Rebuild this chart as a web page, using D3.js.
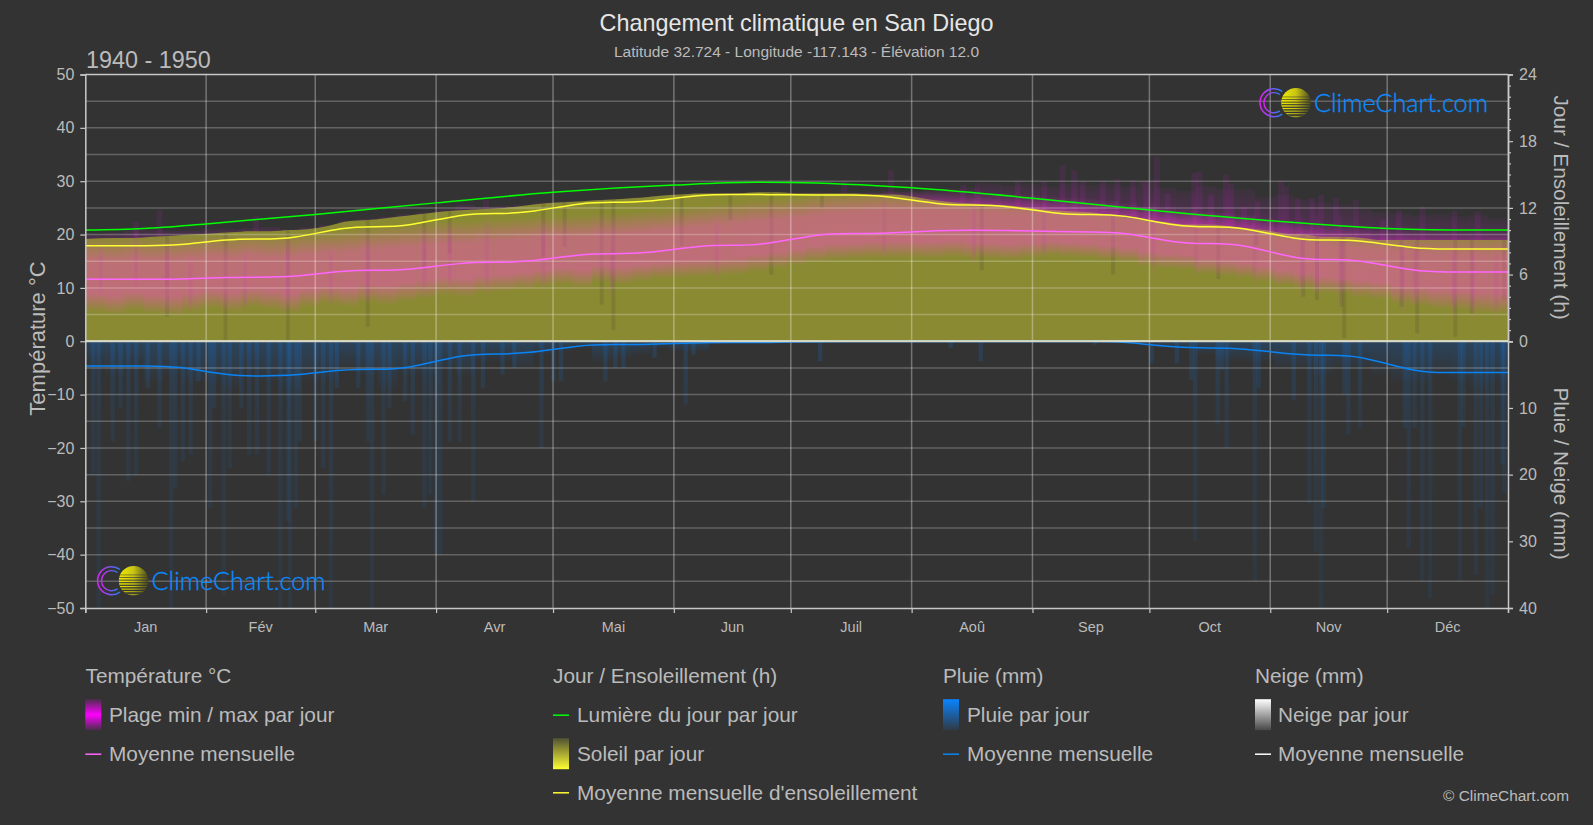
<!DOCTYPE html>
<html>
<head>
<meta charset="utf-8">
<title>Changement climatique en San Diego</title>
<script src="https://cdn.jsdelivr.net/npm/d3@7"></script>
<style>
    html, body { margin: 0; padding: 0; background: #333333; }
    svg { display: block; }
    text { font-family: "Liberation Sans", Arial, sans-serif; fill: #bbbbbb; }
</style>
</head>
<body>
<div id="chart"></div>
<script>
var months = ["Jan", "Fév", "Mar", "Avr", "Mai", "Jun", "Juil", "Aoû", "Sep", "Oct", "Nov", "Déc"];
var monthStarts = [0, 31, 59, 90, 120, 151, 181, 212, 243, 273, 304, 334, 365];

var tempTicks = [-50, -40, -30, -20, -10, 0, 10, 20, 30, 40, 50];
var sunTicks = [0, 6, 12, 18, 24];
var sunMinorTicks = [1, 2, 3, 4, 5, 7, 8, 9, 10, 11, 13, 14, 15, 16, 17, 19, 20, 21, 22, 23];
var rainTicks = [10, 20, 30, 40];
var gridTemps = [-45, -40, -35, -30, -25, -20, -15, -10, -5, 5, 10, 15, 20, 25, 30, 35, 40, 45];

// monthly means
var tempMonthly = [11.6, 12.0, 13.3, 14.8, 16.4, 18.0, 20.2, 20.8, 20.5, 18.3, 15.3, 13.0];
var sunMonthly = [8.6, 9.2, 10.3, 11.5, 12.5, 13.2, 13.15, 12.25, 11.4, 10.3, 9.1, 8.3];
var rainMonthly = [3.7, 5.2, 4.2, 1.9, 0.5, 0.2, 0.05, 0.02, 0.02, 1.0, 2.1, 4.7];
var snowMonthly = [0, 0, 0, 0, 0, 0, 0, 0, 0, 0, 0, 0];

// daylight
var daylightDays = [0, 15, 31, 59, 90, 120, 151, 172, 181, 212, 243, 273, 304, 334, 355, 365];
var daylightHours = [10.0, 10.15, 10.56, 11.4, 12.45, 13.4, 14.05, 14.3, 14.28, 13.8, 12.87, 11.8, 10.84, 10.15, 10.0, 10.0];

// 5 day bins, Jan to Dec
var sunTop = [9.2, 9.3, 9.3, 9.4, 9.5, 9.6, 9.7, 9.8, 9.9, 9.9, 10.0, 10.1, 10.4, 10.8, 10.9, 11.1, 11.3, 11.5,
    11.7, 11.8, 11.9, 12.0, 12.2, 12.4, 12.5, 12.6, 12.7, 12.8, 12.9, 13.1, 13.2, 13.3, 13.3, 13.3, 13.4, 13.4,
    13.3, 13.3, 13.3, 13.3, 13.2, 13.2, 13.0, 12.7, 12.5, 12.4, 12.3, 12.2, 12.0, 11.8, 11.7, 11.6, 11.4, 11.1,
    10.9, 10.7, 10.5, 10.5, 10.4, 10.2, 10.0, 9.7, 9.6, 9.4, 9.4, 9.3, 9.1, 9.1, 9.1, 9.1, 9.1, 9.1, 9.1];
var tempLow = [6.5, 6.0, 6.8, 6.2, 5.8, 6.6, 7.2, 6.5, 7.4, 7.0, 6.3, 7.4, 8.0, 7.4, 8.2, 7.8, 8.4, 9.0,
    9.6, 9.2, 10.0, 10.2, 10.6, 11.2, 11.6, 11.0, 12.0, 11.6, 12.2, 12.6, 12.8, 13.0, 13.2, 13.4, 14.0, 14.6,
    15.2, 15.8, 16.2, 16.4, 16.6, 16.6, 16.6, 16.5, 16.8, 16.5, 16.4, 16.2, 16.6, 17.0, 16.8, 16.6, 16.2, 15.8,
    15.0, 14.6, 14.4, 13.6, 13.2, 12.8, 12.2, 11.4, 10.8, 10.0, 9.8, 9.2, 8.8, 8.0, 7.6, 7.0, 6.8, 6.4, 6.2];
var tempHigh = [17.5, 17.4, 17.6, 17.5, 17.8, 17.8, 18.0, 18.0, 18.2, 18.0, 18.3, 18.4, 18.6, 19.0, 19.4, 19.8, 20.0, 20.3,
    20.5, 20.6, 20.8, 21.0, 21.2, 21.4, 21.5, 21.7, 22.0, 22.2, 22.4, 22.6, 23.0, 23.4, 23.8, 24.2, 24.5, 24.8,
    25.0, 25.4, 25.8, 26.0, 26.2, 26.2, 26.2, 26.3, 26.2, 26.0, 25.8, 25.6, 25.5, 25.2, 25.0, 24.8, 24.5, 24.0,
    23.5, 23.2, 23.0, 22.6, 22.2, 21.8, 21.2, 20.6, 20.2, 19.8, 19.4, 19.2, 19.0, 18.8, 18.6, 18.6, 18.5, 18.5, 18.5];
var tempTop = [20.2, 20.4, 21.0, 21.0, 20.8, 20.8, 21.0, 21.0, 21.2, 21.4, 21.0, 21.4, 21.8, 22.6, 23.0, 23.4, 23.8, 24.2,
    24.8, 25.6, 25.2, 25.4, 25.6, 26.0, 26.2, 26.2, 26.5, 26.7, 27.0, 27.3, 27.6, 27.8, 27.9, 27.9, 28.0, 28.0,
    27.9, 27.9, 27.8, 27.8, 27.8, 28.0, 28.0, 28.2, 28.6, 28.8, 29.6, 29.2, 29.4, 29.0, 29.6, 29.2, 29.4, 29.0,
    30.0, 28.8, 28.2, 29.0, 28.6, 28.4, 27.0, 27.4, 26.6, 26.0, 25.6, 24.8, 24.2, 24.0, 23.6, 23.8, 23.4, 23.6, 23.0];
var rainBase = [4, 5, 4, 6, 5, 6, 6, 7, 5, 6, 7, 6, 6, 4, 5, 7, 5, 5, 4, 5, 3, 3, 4, 2,
    1.5, 1, 3, 2.5, 2, 1, 1.5, 1.5, 0.3, 0.2, 0.3, 0.2, 0, 0, 0, 0, 0, 0, 0, 0, 0, 0, 0, 0,
    0, 0, 0.2, 0, 0, 0, 0.3, 1, 1.2, 2, 3, 3, 3, 4, 4, 5, 4, 4, 5, 6, 6, 5, 6, 7, 6];

// single days that stand out: [day, value]
var rainSpikes = [[3.4, 40], [2, 20], [7, 15], [9, 10], [11, 21], [13, 20], [16, 7], [19, 13], [22, 40], [23, 22], [25, 18], [27, 17], [29, 6],
    [32, 25], [33, 10], [35.5, 38], [37, 19], [40, 10], [42, 17], [44, 17], [47, 20], [50, 40], [52, 27], [52.5, 40], [54, 25], [55, 15], [59, 15],
    [61, 19], [63, 40], [64.5, 7], [70, 7], [72.5, 15], [73.5, 40], [76.5, 23], [78, 10], [82, 9], [84, 14], [87, 25], [88.5, 23],
    [90, 32], [91, 32], [93.5, 15], [96, 15], [99.5, 24], [102, 7], [107, 5], [110, 4], [117, 16], [120, 6],
    [122, 6], [133.4, 6], [136, 4], [138, 4], [146, 2.5], [154, 9.5], [156, 2], [188.5, 3], [222, 1], [229.7, 3], [259, 0.5],
    [273.5, 3.3], [280, 3.3], [283.7, 5.8], [284.7, 30], [290.5, 12.5], [291.5, 4.3], [292.8, 16], [300, 36], [301, 7],
    [310, 8.8], [314, 24.3], [315.7, 31.5], [317, 40], [317.7, 25], [323, 8], [324, 14], [327, 13],
    [338.5, 13], [339.5, 31], [341, 13], [343, 36], [345, 38.5], [352.6, 36], [353.5, 12.8], [356.7, 35], [358, 25],
    [359.6, 40], [361, 38], [363.5, 18.5], [364, 22.8]];
var tempSpikes = [[12.8, 22.4], [18.8, 24.6], [43.6, 23.4], [102.6, 26.5], [194.5, 30], [206.5, 32], [225, 29.3], [228.7, 29.6], [239, 30],
    [245.8, 29.9], [250.5, 33], [253.5, 32], [255.7, 30], [260.8, 30], [264.6, 30.5], [268.5, 30.2], [271.9, 30], [274.7, 34.6], [277.4, 27.7],
    [284.3, 31.5], [285.6, 31.8], [288.6, 27.4], [292.4, 31.2], [293.7, 29.6], [297, 25.2], [300.5, 26.2], [306.5, 30], [307.8, 29],
    [310.8, 26.8], [314.6, 26.8], [316.8, 27.4], [320.6, 26.8], [325.7, 26.5], [332.6, 22.8], [336.8, 24.6], [342.8, 25.2], [351, 24.3], [357, 24.3]];
// days with little sun: [day, hours]
var sunDips = [[21, 2.2], [36, 0.1], [52, 0.1], [72.5, 1.3], [87, 6.4], [93.5, 7.9], [117.5, 7.6],
    [123, 8.5], [132.5, 3.3], [135.5, 1], [153, 8.6], [165.5, 10.9], [176, 6], [189, 12], [230, 6.4],
    [263.7, 6], [290.7, 5.6], [300.5, 8.6], [312.5, 4], [316, 3.7], [322.3, 3.1], [323, 0.3],
    [337.7, 3.1], [341.7, 0.7], [351.5, 0.4], [355.7, 2.5], [364, 3.7]];
// days with a wider temperature range: [day, low, high]
var tempStripes = [[4, 8, 19], [13, 9, 22], [21, 9, 18], [27, 5, 17], [41, 5, 18], [52, 7, 20], [63, 6, 19], [72.5, 7, 20], [87, 8, 21],
    [93.5, 9, 23], [103, 8, 25], [117.5, 9, 23], [135, 8, 20], [162, 11, 24], [205, 15, 29], [228, 14, 28], [246, 15, 27],
    [274, 12, 27], [285, 12, 26], [300, 10, 25], [312, 8, 24], [316, 8, 25], [322, 6, 25], [338, 5, 20], [341, 6, 21], [351, 4, 20], [356, 4, 20], [362, 4, 19]];

var width = 1593;
var height = 825;
var margin = { top: 74.5, right: 85, bottom: 217, left: 85.3 };

function plot() {
    var svg = d3.select("#chart").append("svg")
        .attr("width", width)
        .attr("height", height);
    var defs = svg.append("defs");

    var x = d3.scaleLinear().domain([0, 365]).range([margin.left, width - margin.right]);
    var y = d3.scaleLinear().domain([-50, 50]).range([height - margin.bottom, margin.top]);
    var ySun = d3.scaleLinear().domain([0, 24]).range([y(0), y(50)]);
    var yRain = d3.scaleLinear().domain([0, 40]).range([y(0), y(-50)]);

    makeGradients(defs, y);
    drawTitles(svg);

    var marks = svg.append("g");
    drawTempFaint(marks, x, y, ySun);
    drawSun(marks, x, ySun);
    drawTemp(marks, x, y);
    drawRain(marks, x, yRain);

    drawGrid(svg, x, y);
    drawLogo(svg, 1296, 102.7, "logoA");
    drawLogo(svg, 133.6, 580.7, "logoB");
    drawLines(svg, x, ySun, yRain, y);
    drawAxes(svg, x, y, ySun, yRain);
    drawLegend(svg);
}

function makeGradients(defs, y) {
    var addGradient = function (id, stops, attrs) {
        var g = defs.append("linearGradient").attr("id", id)
            .attr("x1", 0).attr("x2", 0).attr("y1", 0).attr("y2", 1);
        for (var k in (attrs || {})) g.attr(k, attrs[k]);
        stops.forEach(function (s) {
            g.append("stop").attr("offset", s[0]).attr("stop-color", s[1]).attr("stop-opacity", s[2]);
        });
    };
    addGradient("tempCore", [[0, "#ff4ccc", 0], [0.3, "#ff4ccc", 0.42], [0.75, "#ff4ccc", 0.46], [1, "#ff4ccc", 0]]);
    addGradient("tempFaint", [[0, "#e020e0", 0.05], [0.6, "#e020e0", 0.16], [1, "#e020e0", 0.34]]);
    addGradient("tempStripe", [[0, "#ff3cdc", 0], [0.3, "#c030b0", 0.13], [0.8, "#c030b0", 0.13], [1, "#ff3cdc", 0]]);
    addGradient("rainBaseFill", [[0, "#0a84ff", 0.2], [1, "#0a84ff", 0.02]]);
    addGradient("rainFill", [[0, "#0a84ff", 0.16], [0.25, "#0a84ff", 0.09], [1, "#0a84ff", 0.07]],
        { gradientUnits: "userSpaceOnUse", x1: 0, x2: 0, y1: y(0), y2: y(-50) });
    addGradient("legendTemp", [[0, "#ff00ff", 0.12], [0.5, "#ff00ff", 1], [1, "#ff00ff", 0.1]]);
    addGradient("legendSun", [[0, "#ffff33", 0.15], [1, "#ffff33", 1]]);
    addGradient("legendRain", [[0, "#0a84ff", 1], [1, "#0a84ff", 0.08]]);
    addGradient("legendSnow", [[0, "#ffffff", 1], [1, "#ffffff", 0.1]]);
    addGradient("sunDisc", [[0, "#f0ec00", 1], [0.5, "#c8c414", 1], [1, "#4a4a20", 1]], { x2: 1, y2: 0 });
    var ring = defs.append("linearGradient").attr("id", "ringFill");
    ring.append("stop").attr("offset", 0).attr("stop-color", "#e020f0");
    ring.append("stop").attr("offset", 1).attr("stop-color", "#2080f0");
}

function drawTitles(svg) {
    svg.append("text").attr("x", 796.5).attr("y", 30.5).attr("text-anchor", "middle")
        .style("font-size", "23.4px").style("fill", "#e6e6e6")
        .text("Changement climatique en San Diego");
    svg.append("text").attr("x", 796.5).attr("y", 57).attr("text-anchor", "middle")
        .style("font-size", "15.5px")
        .text("Latitude 32.724 - Longitude -117.143 - Élévation 12.0");
    svg.append("text").attr("x", 86).attr("y", 67.5)
        .style("font-size", "23.4px")
        .text("1940 - 1950");
    svg.append("text").attr("transform", "translate(45,338.5) rotate(-90)").attr("text-anchor", "middle")
        .style("font-size", "22px")
        .text("Température °C");
    svg.append("text").attr("transform", "translate(1554,207.6) rotate(90)").attr("text-anchor", "middle")
        .style("font-size", "20.8px")
        .text("Jour / Ensoleillement (h)");
    svg.append("text").attr("transform", "translate(1554,473.5) rotate(90)").attr("text-anchor", "middle")
        .style("font-size", "20.8px")
        .text("Pluie / Neige (mm)");
    svg.append("text").attr("x", 1569).attr("y", 801).attr("text-anchor", "end")
        .style("font-size", "15.4px")
        .text("© ClimeChart.com");
}

function binDay(i) {
    if (i === 0) return 0;
    if (i === 72) return 365;
    return i * 5 + 2.5;
}

function sunAt(day) {
    return sunTop[Math.min(72, Math.floor(day / 5))];
}

function drawTempFaint(g, x, y, ySun) {
    var binW = x(5) - x(0);
    g.selectAll(".tempFaint").data(tempTop).enter().append("rect")
        .attr("class", "tempFaint")
        .attr("x", function (d, i) { return x(i * 5); })
        .attr("width", function (d, i) { return Math.min(binW, x(365) - x(i * 5)); })
        .attr("y", function (d) { return y(d); })
        .attr("height", function (d, i) { return Math.max(0, ySun(sunTop[i]) + 3 - y(d)); })
        .attr("fill", "url(#tempFaint)");
    g.selectAll(".tempSpike").data(tempSpikes).enter().append("rect")
        .attr("class", "tempSpike")
        .attr("x", function (d) { return x(d[0]) - 2; })
        .attr("width", 1.5 * (x(1) - x(0)))
        .attr("y", function (d) { return y(d[1]); })
        .attr("height", function (d) { return Math.max(0, ySun(sunAt(d[0])) - y(d[1])); })
        .attr("fill", "#e020e0")
        .attr("fill-opacity", 0.1);
}

function drawSun(g, x, ySun) {
    var area = d3.area()
        .x(function (d, i) { return x(binDay(i)); })
        .y0(ySun(0))
        .y1(function (d) { return ySun(d); })
        .curve(d3.curveMonotoneX);
    g.append("path").datum(sunTop)
        .attr("d", area)
        .attr("fill", "#8a8a33");
    g.selectAll(".sunDip").data(sunDips).enter().append("rect")
        .attr("class", "sunDip")
        .attr("x", function (d) { return x(d[0]) - 2; })
        .attr("width", x(1) - x(0))
        .attr("y", function (d) { return ySun(sunAt(d[0])); })
        .attr("height", function (d) { return ySun(d[1]) - ySun(sunAt(d[0])); })
        .attr("fill", "#333333")
        .attr("fill-opacity", 0.14);
}

function drawTemp(g, x, y) {
    var binW = x(5) - x(0);
    g.selectAll(".tempCore").data(tempHigh).enter().append("rect")
        .attr("class", "tempCore")
        .attr("x", function (d, i) { return x(i * 5); })
        .attr("width", function (d, i) { return Math.min(binW, x(365) - x(i * 5)); })
        .attr("y", function (d) { return y(d + 2); })
        .attr("height", function (d, i) { return y(tempLow[i] - 1) - y(d + 2); })
        .attr("fill", "url(#tempCore)");
    g.selectAll(".tempStripe").data(tempStripes).enter().append("rect")
        .attr("class", "tempStripe")
        .attr("x", function (d) { return x(d[0]) - 2; })
        .attr("width", x(1) - x(0))
        .attr("y", function (d) { return y(d[2]); })
        .attr("height", function (d) { return y(d[1]) - y(d[2]); })
        .attr("fill", "url(#tempStripe)");
}

function drawRain(g, x, yRain) {
    var binW = x(5) - x(0);
    g.selectAll(".rainBase").data(rainBase).enter().append("rect")
        .attr("class", "rainBase")
        .attr("x", function (d, i) { return x(i * 5); })
        .attr("width", function (d, i) { return Math.min(binW, x(365) - x(i * 5)); })
        .attr("y", yRain(0))
        .attr("height", function (d) { return yRain(d) - yRain(0); })
        .attr("fill", "url(#rainBaseFill)");
    g.selectAll(".rainSpike").data(rainSpikes).enter().append("rect")
        .attr("class", "rainSpike")
        .attr("x", function (d) { return x(d[0]) - 2; })
        .attr("width", x(1.1) - x(0))
        .attr("y", yRain(0))
        .attr("height", function (d) { return yRain(d[1]) - yRain(0); })
        .attr("fill", "url(#rainFill)");
}

function drawGrid(svg, x, y) {
    var grid = svg.append("g");
    grid.selectAll(".hgrid").data(gridTemps).enter().append("line")
        .attr("class", "hgrid")
        .attr("x1", x(0)).attr("x2", x(365))
        .attr("y1", function (d) { return y(d); })
        .attr("y2", function (d) { return y(d); })
        .attr("stroke", "#ffffff").attr("stroke-opacity", 0.24).attr("stroke-width", 1.5);
    grid.selectAll(".vgrid").data(monthStarts.slice(1, 12)).enter().append("line")
        .attr("class", "vgrid")
        .attr("x1", function (d) { return x(d); })
        .attr("x2", function (d) { return x(d); })
        .attr("y1", y(50)).attr("y2", y(-50))
        .attr("stroke", "#ffffff").attr("stroke-opacity", 0.32).attr("stroke-width", 1.5);
}

// three knots per month give the flat stretch through the middle of each month
function monthlyKnots(values) {
    var knots = [[0, values[0]], [0, values[0]]];
    values.forEach(function (v, i) {
        var mid = (monthStarts[i] + monthStarts[i + 1]) / 2;
        knots.push([mid - 8, v], [mid, v], [mid + 8, v]);
    });
    knots.push([365, values[11]], [365, values[11]]);
    return knots;
}

function drawLines(svg, x, ySun, yRain, y) {
    var line = function (yScale, curve) {
        return d3.line()
            .x(function (d) { return x(d[0]); })
            .y(function (d) { return yScale(d[1]); })
            .curve(curve);
    };
    var add = function (knots, yScale, color, curve) {
        svg.append("path").datum(knots)
            .attr("d", line(yScale, curve))
            .attr("fill", "none")
            .attr("stroke", color)
            .attr("stroke-width", 1.5);
    };
    add(monthlyKnots(snowMonthly), yRain, "#ffffff", d3.curveBasis);
    add(monthlyKnots(rainMonthly), yRain, "#0a84f5", d3.curveBasis);
    add(monthlyKnots(tempMonthly), y, "#ff66ff", d3.curveBasis);
    add(monthlyKnots(sunMonthly), ySun, "#ffff33", d3.curveBasis);
    add(daylightDays.map(function (d, i) { return [d, daylightHours[i]]; }), ySun, "#00ff00", d3.curveMonotoneX);
}

function drawAxes(svg, x, y, ySun, yRain) {
    var style = function (g) {
        g.selectAll("path").attr("stroke", "#c8c8c8").attr("stroke-width", 1.5);
        g.selectAll("line").attr("stroke", "#c8c8c8").attr("stroke-width", 1.2);
        g.selectAll("text").style("fill", "#bbbbbb").style("font-size", "16px")
            .style("font-family", "'Liberation Sans', Arial, sans-serif");
    };
    svg.append("g").attr("transform", "translate(" + x(0) + ",0)")
        .call(d3.axisLeft(y).tickValues(tempTicks).tickSize(5).tickSizeOuter(5).tickPadding(6))
        .call(style);
    svg.append("g").attr("transform", "translate(" + x(365) + ",0)")
        .call(d3.axisRight(ySun).tickValues(sunTicks).tickSize(5).tickPadding(6))
        .call(style);
    svg.append("g").attr("transform", "translate(" + x(365) + ",0)")
        .call(d3.axisRight(yRain).tickValues(rainTicks).tickSize(5).tickPadding(6))
        .call(style);
    svg.append("g").attr("transform", "translate(" + x(365) + ",0)")
        .call(d3.axisRight(ySun).tickValues(sunMinorTicks).tickSize(3).tickFormat(""))
        .call(style);
    svg.append("g").attr("transform", "translate(0," + y(-50) + ")")
        .call(d3.axisBottom(x).tickValues(monthStarts).tickSize(5).tickFormat(""))
        .call(style);
    // top border and zero line
    svg.append("line").attr("x1", x(0)).attr("x2", x(365)).attr("y1", y(50)).attr("y2", y(50))
        .attr("stroke", "#c8c8c8").attr("stroke-width", 1.5);
    svg.append("line").attr("x1", x(0)).attr("x2", x(365)).attr("y1", y(0)).attr("y2", y(0))
        .attr("stroke", "#d8d8c8").attr("stroke-width", 2);
    svg.selectAll(".monthLabel").data(months).enter().append("text")
        .attr("class", "monthLabel")
        .attr("x", function (d, i) { return x((monthStarts[i] + monthStarts[i + 1]) / 2); })
        .attr("y", 632)
        .attr("text-anchor", "middle")
        .style("font-size", "14.5px")
        .text(function (d) { return d; });
}

function drawLogo(svg, cx, cy, clipId) {
    var g = svg.append("g");
    var arc = d3.arc().startAngle(0.8 * Math.PI).endAngle(2.2 * Math.PI);
    [[13.2, 14.8], [9.4, 10.8]].forEach(function (r) {
        g.append("path")
            .attr("d", arc({ innerRadius: r[0], outerRadius: r[1] }))
            .attr("transform", "translate(" + (cx - 22) + "," + cy + ")")
            .attr("fill", "url(#ringFill)");
    });
    var r = 14.7;
    g.append("clipPath").attr("id", clipId).append("circle").attr("cx", cx).attr("cy", cy).attr("r", r);
    g.append("circle").attr("cx", cx).attr("cy", cy).attr("r", r).attr("fill", "url(#sunDisc)");
    // dark stripes, thin at the top of the disc and thicker lower down
    var stripes = g.append("g").attr("clip-path", "url(#" + clipId + ")");
    d3.range(0, 9).forEach(function (i) {
        stripes.append("rect")
            .attr("x", cx - r).attr("width", 2 * r)
            .attr("y", cy - 6 + i * 2.5)
            .attr("height", 0.5 + i * 0.17)
            .attr("fill", "#333333");
    });
    g.append("text").attr("x", cx + 18).attr("y", cy + 9.3)
        .style("font-family", "Lato, 'Liberation Sans', sans-serif")
        .style("font-size", "25.2px").style("font-weight", 300)
        .style("fill", "#0a8cff").style("stroke", "#0a8cff").style("stroke-width", 0.3)
        .text("ClimeChart.com");
}

function drawLegend(svg) {
    var rowY = [722.2, 761.2, 799.8];
    var legend = svg.append("g");
    var head = function (xPos, label) {
        legend.append("text").attr("x", xPos).attr("y", 682.7).style("font-size", "20.8px").text(label);
    };
    var label = function (xPos, row, text) {
        legend.append("text").attr("x", xPos).attr("y", rowY[row]).style("font-size", "20.8px").text(text);
    };
    var swatchLine = function (xPos, row, color) {
        legend.append("line").attr("x1", xPos).attr("x2", xPos + 16)
            .attr("y1", rowY[row] - 7).attr("y2", rowY[row] - 7)
            .attr("stroke", color).attr("stroke-width", 1.5);
    };
    var swatchBox = function (xPos, row, fill) {
        legend.append("rect").attr("x", xPos).attr("y", rowY[row] - 23)
            .attr("width", 16).attr("height", 31)
            .attr("fill", fill);
    };

    head(85.5, "Température °C");
    swatchBox(85.3, 0, "url(#legendTemp)");
    label(109, 0, "Plage min / max par jour");
    swatchLine(85.3, 1, "#ff66ff");
    label(109, 1, "Moyenne mensuelle");

    head(553, "Jour / Ensoleillement (h)");
    swatchLine(553, 0, "#00ff00");
    label(577, 0, "Lumière du jour par jour");
    swatchBox(553, 1, "url(#legendSun)");
    label(577, 1, "Soleil par jour");
    swatchLine(553, 2, "#ffff33");
    label(577, 2, "Moyenne mensuelle d'ensoleillement");

    head(943, "Pluie (mm)");
    swatchBox(943, 0, "url(#legendRain)");
    label(967, 0, "Pluie par jour");
    swatchLine(943, 1, "#0a84f5");
    label(967, 1, "Moyenne mensuelle");

    head(1255, "Neige (mm)");
    swatchBox(1255, 0, "url(#legendSnow)");
    label(1278, 0, "Neige par jour");
    swatchLine(1255, 1, "#ffffff");
    label(1278, 1, "Moyenne mensuelle");
}

plot();
</script>
</body>
</html>
